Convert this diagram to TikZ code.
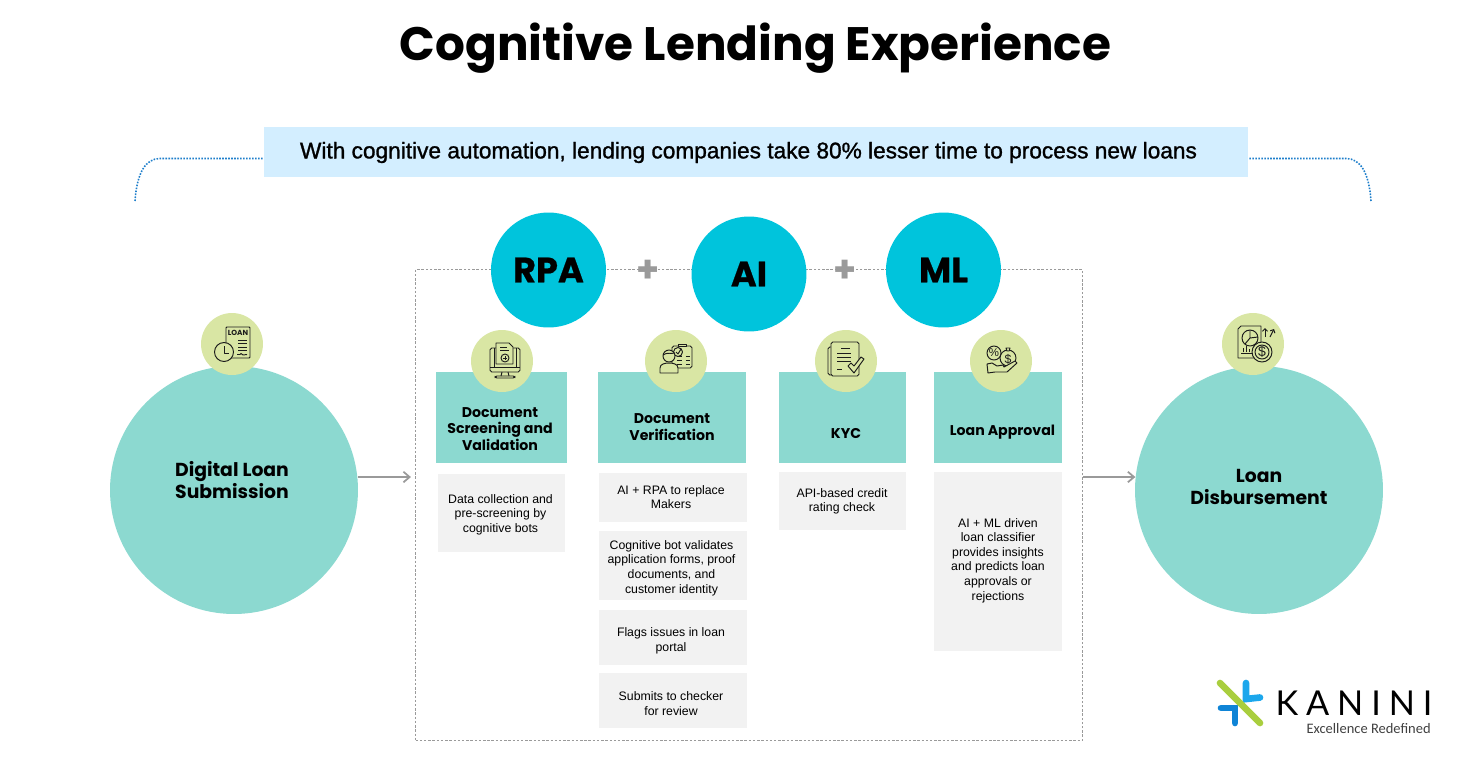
\documentclass[tikz,border=0pt]{standalone}
\usepackage{fontspec}
\setmainfont{Liberation Sans}
\newfontfamily\headfont{Poppins}
\newfontfamily\techfont[FakeBold=0.6]{Poppins Bold}
\newfontfamily\bannerfont[FakeBold=1.2]{Liberation Sans}
\newfontfamily\logofont{Lato}
\newfontfamily\tagfont{Carlito}
\usetikzlibrary{arrows.meta}
\definecolor{tealfill}{HTML}{8CD9D0}
\definecolor{cyanfill}{HTML}{00C4DC}
\definecolor{leaffill}{HTML}{D9E6A4}
\definecolor{greyfill}{HTML}{F2F2F2}
\definecolor{bannerfill}{HTML}{D3EEFF}
\definecolor{bracketblue}{HTML}{1F7FCB}
\definecolor{arrowgrey}{HTML}{9A9A9A}
\definecolor{inkline}{HTML}{1C1C1C}
\definecolor{logogreen}{HTML}{A9CE3E}
\definecolor{logoblue}{HTML}{1CA7EC}
\definecolor{logodeep}{HTML}{0F84D6}
\tikzset{
  bigcircle/.style={circle,fill=tealfill,minimum size=4.96cm,inner sep=0pt},
  techcircle/.style={circle,fill=cyanfill,minimum size=2.3cm,inner sep=0pt,font=\techfont\fontsize{20}{20}\selectfont},
  iconcircle/.style={circle,fill=leaffill,minimum size=1.24cm,inner sep=0pt},
  headbox/.style={rectangle,fill=tealfill,inner sep=0pt,anchor=north west,minimum height=1.82cm},
  headtext/.style={align=center,font=\headfont\bfseries\fontsize{8.05}{9.4}\selectfont},
  bodybox/.style={rectangle,fill=greyfill,inner sep=0pt,anchor=north west},
  bodytext/.style={align=center,inner sep=0pt,font=\fontsize{7}{8.3}\selectfont},
  bigtext/.style={align=center,font=\headfont\bfseries\fontsize{10.7}{12.4}\selectfont},
  plustext/.style={text=arrowgrey,inner sep=0pt,font=\headfont\bfseries\fontsize{21}{21}\selectfont},
  flowarrow/.style={draw=arrowgrey,line width=1pt,-{Straight Barb[length=3.5pt,width=6pt]}},
  bracket/.style={draw=bracketblue,line width=0.9pt,dash pattern=on 0.9pt off 0.8pt},
  icon/.style={draw=inkline,line width=0.55pt,line join=round},
  iconfill/.style={icon,fill=leaffill}
}
\begin{document}
\begin{tikzpicture}[x=0.02cm,y=-0.02cm]
    \useasboundingbox (0,0) rectangle (1472,762);
    %% Title and banner
    \node[font=\headfont\bfseries\fontsize{26.7}{30}\selectfont] (title) at (755.5,48) {Cognitive Lending Experience};
    \node[rectangle,fill=bannerfill,minimum width=19.68cm,minimum height=1cm,inner sep=0pt] (banner) at (756,152) {};
    \node[font=\bannerfont\fontsize{12.9}{15}\selectfont] (bannertext) at (748.5,152.5) {With cognitive automation, lending companies take 80\% lesser time to process new loans};
    %% Brackets
    \coordinate (bracketL) at (135,201);
    \coordinate (bracketR) at (1371,201);
    \draw[bracket] (bracketL) .. controls (137,172) and (146,158.5) .. (160,158.5) -- (banner.west |- 160,158.5);
    \draw[bracket] (bracketR) .. controls (1369,172) and (1360,158.5) .. (1346,158.5) -- (banner.east |- 1346,158.5);
    %% Dotted frame
    \node[draw=arrowgrey,line width=0.9pt,dash pattern=on 1.4pt off 1pt,rectangle,minimum width=13.34cm,minimum height=9.42cm,inner sep=0pt,anchor=north west] (frame) at (414.8,268.8) {};
    %% Technology circles
    \node[techcircle] (rpa) at (548.5,270) {RPA};
    \node[techcircle] (ai) at (749,274) {AI};
    \node[techcircle] (ml) at (943.5,270) {ML};
    \node[plustext] (plusA) at (648,271.5) {+};
    \node[plustext] (plusB) at (845,271.5) {+};
    %% Start and end circles
    \node[bigcircle] (digital) at (234,490) {};
    \node[bigcircle] (disburse) at (1259,490) {};
    \node[bigtext] (digitaltext) at (232,480) {Digital Loan\\Submission};
    \node[bigtext] (disbursetext) at (1259,487) {Loan\\Disbursement};
    %% Column heads
    \node[headbox,minimum width=2.62cm] (screenbox) at (436,372) {};
    \node[headbox,minimum width=2.96cm] (verifybox) at (598,372) {};
    \node[headbox,minimum width=2.54cm] (kycbox) at (779,372) {};
    \node[headbox,minimum width=2.56cm] (approvebox) at (934,372) {};
    \node[headtext] (screenhead) at (500,429) {Document\\Screening and\\Validation};
    \node[headtext] (verifyhead) at (672,427) {Document\\Verification};
    \node[headtext] (kychead) at (846,434) {KYC};
    \node[headtext] (approvehead) at (1002.5,432.5) {Loan Approval};
    %% Column bodies
    \node[bodybox,minimum width=2.54cm,minimum height=1.56cm] (screenA) at (438,474) {};
    \node[bodybox,minimum width=2.96cm,minimum height=0.98cm] (verifyA) at (599,473) {};
    \node[bodybox,minimum width=2.96cm,minimum height=1.38cm] (verifyB) at (599,531) {};
    \node[bodybox,minimum width=2.96cm,minimum height=1.1cm] (verifyC) at (599,610) {};
    \node[bodybox,minimum width=2.96cm,minimum height=1.1cm] (verifyD) at (599,673) {};
    \node[bodybox,minimum width=2.54cm,minimum height=1.16cm] (kycA) at (779,472) {};
    \node[bodybox,minimum width=2.56cm,minimum height=3.58cm] (approveA) at (934,472) {};
    \node[bodytext] (screenAtext) at (500.5,514.5) {Data collection and\\pre-screening by\\cognitive bots};
    \node[bodytext] (verifyAtext) at (671,497) {AI + RPA to replace\\Makers};
    \node[bodytext] (verifyBtext) at (671.5,568) {Cognitive bot validates\\application forms, proof\\documents, and\\customer identity};
    \node[bodytext] (verifyCtext) at (671,641) {Flags issues in loan\\portal};
    \node[bodytext] (verifyDtext) at (671,703.5) {Submits to checker\\for review};
    \node[bodytext] (kycAtext) at (842,501.5) {API-based credit\\rating check};
    \node[bodytext] (approveAtext) at (998,560.5) {AI + ML driven\\loan classifier\\provides insights\\and predicts loan\\approvals or\\rejections};
    %% Flow arrows
    \draw[flowarrow,shorten >=2.2pt] (digital.6) -- (digital.6 -| frame.west);
    \draw[flowarrow] (frame.east |- disburse.174) -- (disburse.174);
    %% Icon circles
    \node[iconcircle] (loanicon) at (232,344) {};
    \node[iconcircle] (screenicon) at (502,361) {};
    \node[iconcircle] (verifyicon) at (676,361) {};
    \node[iconcircle] (kycicon) at (846,361) {};
    \node[iconcircle] (approveicon) at (1001,361) {};
    \node[iconcircle] (payicon) at (1253,344) {};
    %% Icon: loan form and clock
    \begin{scope}[shift={(232,344)}]
        \draw[iconfill,rounded corners=0.5pt] (-6,-17) rectangle (18,14);
        \node[inner sep=0pt,text=inkline,font=\headfont\bfseries\fontsize{4.2}{4.2}\selectfont] (loanword) at (6,-11) {LOAN};
        \foreach \yy in {-4,-0.5,3,6.5} \draw[icon] (6,\yy) -- (15,\yy);
        \draw[icon] (5,10.5) -- (8,10.5) -- (9,9.5) -- (11,11) -- (15,10.5);
        \draw[iconfill] (-8,8) circle (9.5);
        \draw[icon] (-8,2) -- (-8,9) -- (-3,9);
    \end{scope}
    %% Icon: monitor with document
    \begin{scope}[shift={(502,361)}]
        \draw[icon,rounded corners=1pt] (-12,-13) rectangle (18,11);
        \draw[icon] (-12,6) -- (18,6);
        \draw[icon] (-8,-13) -- (-8,6) (14,-13) -- (14,6);
        \draw[icon] (0,11) -- (-1,15) (6,11) -- (7,15);
        \draw[icon,rounded corners=1pt] (-7,15) rectangle (13,17);
        \draw[iconfill] (-6,-18) -- (7,-18) -- (11,-14) -- (11,3) -- (-6,3) -- cycle;
        \draw[icon] (-2,-14) -- (5,-14) (-2,-11) -- (7,-11);
        \draw[icon] (3,-3) circle (4);
        \draw[icon] (1,-3) -- (5,-3) (3,-5) -- (3,-1);
    \end{scope}
    %% Icon: person with clipboard
    \begin{scope}[shift={(676,361)}]
        \draw[iconfill,rounded corners=1pt] (-4,-15) rectangle (16,7);
        \draw[iconfill] (2,-17) rectangle (10,-15);
        \foreach \yy in {-5,-1,3} \draw[icon,densely dashed] (1,\yy) -- (14,\yy);
        \draw[iconfill] (2,-9) circle (4.5);
        \draw[icon] (0,-9) -- (2,-7) -- (5,-12);
        \draw[iconfill] (-16,12) -- (-16,7) .. controls (-16,3) and (-11,2) .. (-7,2) .. controls (-3,2) and (2,3) .. (2,7) -- (2,12) -- cycle;
        \draw[iconfill] (-7,-5) circle (6);
        \draw[icon] (-13,-6) .. controls (-9,-9) and (-5,-7) .. (-1,-8);
    \end{scope}
    %% Icon: form with tick
    \begin{scope}[shift={(846,361)}]
        \draw[icon,rounded corners=1pt] (-18,-14) rectangle (-13,14);
        \draw[iconfill,rounded corners=1pt] (-15,-19) rectangle (13,15);
        \draw[icon] (-5,-13) -- (4,-13);
        \foreach \yy in {-8,-4,0} \draw[icon] (-9,\yy) -- (5,\yy);
        \draw[icon] (-9,8) -- (-4,8);
        \draw[iconfill] (2,5) -- (5,2) -- (8,5) -- (15,-4) -- (18,-2) -- (8,12) -- cycle;
    \end{scope}
    %% Icon: hand with money bag
    \begin{scope}[shift={(1001,361)}]
        \draw[iconfill] (7,-3) circle (8);
        \draw[iconfill] (5,-13) -- (9,-13) -- (8,-10) -- (6,-10) -- cycle;
        \node[inner sep=0pt,text=inkline,font=\fontsize{7}{7}\selectfont] (bagsign) at (7,-2) {\$};
        \draw[iconfill] (-7,-8) circle (7);
        \node[inner sep=0pt,text=inkline,font=\fontsize{6.5}{6.5}\selectfont] (ratesign) at (-7,-8) {\%};
        \draw[iconfill] (-14,3) -- (-9,2) -- (-4,5) -- (2,4) -- (3,6) -- (14,0) -- (16,2) -- (6,11) -- (-6,11) -- (-13,12) -- cycle;
    \end{scope}
    %% Icon: chart page with coin
    \begin{scope}[shift={(1253,344)}]
        \draw[iconfill] (-12,-18) -- (8,-18) -- (8,14) -- (-15,14) -- (-15,-15) -- cycle;
        \draw[iconfill] (-3,-6) circle (8);
        \draw[icon] (-3,-14) -- (-3,-6) -- (5,-7) (-3,-6) -- (-8,0);
        \draw[icon] (-10,8) -- (-10,4) (-7,8) -- (-7,2) (-4,8) -- (-4,5) (-12,9) -- (-1,9);
        \draw[iconfill] (9,8) circle (10);
        \draw[icon] (9,8) circle (7);
        \node[inner sep=0pt,text=inkline,font=\fontsize{8}{8}\selectfont] (coinsign) at (9,8) {\$};
        \draw[icon,-{Straight Barb[length=1.5pt,width=3pt]}] (12,-7) -- (12,-16);
        \draw[icon,-{Straight Barb[length=1.5pt,width=3pt]}] (17,-7) -- (21,-15);
    \end{scope}
    %% Logo
    \draw[logoblue,line width=3.8pt,line cap=round] (1246,683) -- (1246,699) -- (1260,697.5);
    \draw[logodeep,line width=3.8pt,line cap=round] (1221,708) -- (1235,708) -- (1235,723);
    \draw[logogreen,line width=3.8pt,line cap=round] (1220,683) -- (1260,723);
    \node[inner sep=0pt,font=\logofont\fontsize{19.5}{19.5}\selectfont] (logoword) at (1354,703) {\addfontfeature{LetterSpace=23}KANINI};
    \node[inner sep=0pt,text=black!75,font=\tagfont\fontsize{8.25}{8.25}\selectfont,anchor=east] (logotag) at (1431,728.5) {Excellence Redefined};
\end{tikzpicture}
\end{document}
